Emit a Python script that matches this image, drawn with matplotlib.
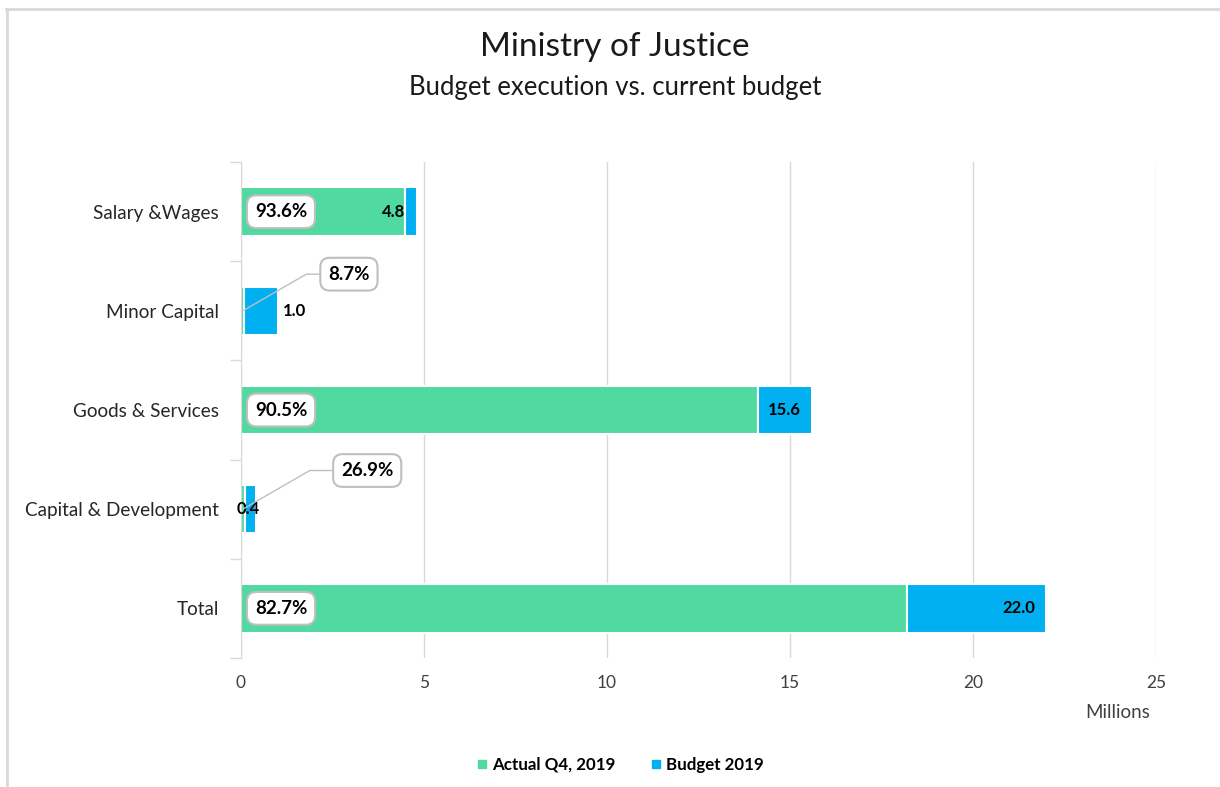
import numpy as np
import matplotlib.pyplot as plt
from matplotlib.lines import Line2D

plt.rcParams['font.family'] = ['Lato', 'DejaVu Sans']

# bottom to top, as drawn on the y axis
categories = ['Total', 'Capital & Development', 'Goods & Services', 'Minor Capital', 'Salary &Wages']
budget = [22.0, 0.4, 15.6, 1.0, 4.8]
exec_pct = [82.7, 26.9, 90.5, 8.7, 93.6]

green = '#50D9A0'
blue = '#00B0F0'

budget = np.array(budget)
actual = budget * np.array(exec_pct) / 100
remaining = budget - actual
y = np.arange(len(categories))

fig = plt.figure(figsize=(12.2, 7.87), dpi=100)
ax = fig.add_axes([0.1975, 0.164, 0.75, 0.63])

ax.barh(y, actual, height=0.49, color=green, edgecolor='white', linewidth=1.5, zorder=3)
ax.barh(y, remaining, left=actual, height=0.49, color=blue, edgecolor='white', linewidth=1.5, zorder=3)

ax.set_xlim(0, 25)
ax.set_ylim(-0.5, len(categories) - 0.5)
ax.set_xticks(np.arange(0, 26, 5))
ax.set_yticks(y)
ax.set_yticklabels(categories, fontsize=13.6, color='#262626')
ax.set_yticks(np.arange(-0.5, len(categories), 1), minor=True)
ax.tick_params(axis='y', which='major', length=0, pad=16)
ax.tick_params(axis='y', which='minor', length=8, color='#D9D9D9', width=1)
ax.tick_params(axis='x', length=0, labelsize=12.5, labelcolor='#404040', pad=12)
ax.grid(axis='x', color='#D9D9D9', linewidth=1, zorder=0)
for s in ['top', 'right', 'bottom']:
    ax.spines[s].set_visible(False)
ax.spines['left'].set_color('#D9D9D9')
ax.spines['left'].set_zorder(4)

# budget value labels
for i, b in enumerate(budget):
    if categories[i] == 'Minor Capital':
        ax.annotate(f'{b:.1f}', (b, i), xytext=(4, 0), textcoords='offset points',
                    ha='left', va='center', fontsize=12, fontweight='bold', zorder=5)
    elif categories[i] == 'Capital & Development':
        ax.annotate(f'{b:.1f}', (b / 2, i), ha='center', va='center',
                    fontsize=12, fontweight='bold', zorder=5)
    else:
        ax.annotate(f'{b:.1f}', (b, i), xytext=(-8, 0), textcoords='offset points',
                    ha='right', va='center', fontsize=12, fontweight='bold', zorder=5)

# execution rate boxes
box = dict(boxstyle='round,pad=0.42,rounding_size=0.5', fc='white', ec='#BFBFBF', lw=1.5)
callouts = {'Minor Capital': (2.95, 0.37), 'Capital & Development': (3.45, 0.39)}
for i, p in enumerate(exec_pct):
    if categories[i] in callouts:
        dx, dy = callouts[categories[i]]
        ax.annotate(f'{p:.1f}%', xy=(0.05, i), xytext=(dx, i + dy),
                    ha='center', va='center', fontsize=13.5, fontweight='bold',
                    bbox=box, zorder=6,
                    arrowprops=dict(arrowstyle='-', color='#BFBFBF', lw=1,
                                    shrinkA=0, shrinkB=0,
                                    connectionstyle='angle,angleA=0,angleB=30,rad=0'))
    else:
        ax.annotate(f'{p:.1f}%', (0, i), xytext=(10, 0), textcoords='offset points',
                    ha='left', va='center', fontsize=13.5, fontweight='bold',
                    bbox=box, zorder=6)

fig.text(0.916, 0.095, 'Millions', ha='center', va='center', fontsize=13.5, color='#404040')

fig.text(0.504, 0.94, 'Ministry of Justice', ha='center', va='center', fontsize=24, color='#1a1a1a')
fig.text(0.504, 0.889, 'Budget execution vs. current budget', ha='center', va='center',
         fontsize=18.5, color='#1a1a1a')

handles = [Line2D([], [], marker='s', ls='', color=green, markersize=6),
           Line2D([], [], marker='s', ls='', color=blue, markersize=6)]
fig.legend(handles, ['Actual Q4, 2019', 'Budget 2019'], loc='center', bbox_to_anchor=(0.508, 0.028),
           ncol=2, frameon=False, prop={'weight': 'bold', 'size': 12.2},
           handletextpad=0.2, columnspacing=2.0, handlelength=0.8)

# chart frame
fig.add_artist(Line2D([0.005, 1.0], [0.989, 0.989], color='#D9D9D9', lw=2))
fig.add_artist(Line2D([0.006, 0.006], [0.0, 0.989], color='#D9D9D9', lw=2))

fig.savefig('out.png', dpi=100)
